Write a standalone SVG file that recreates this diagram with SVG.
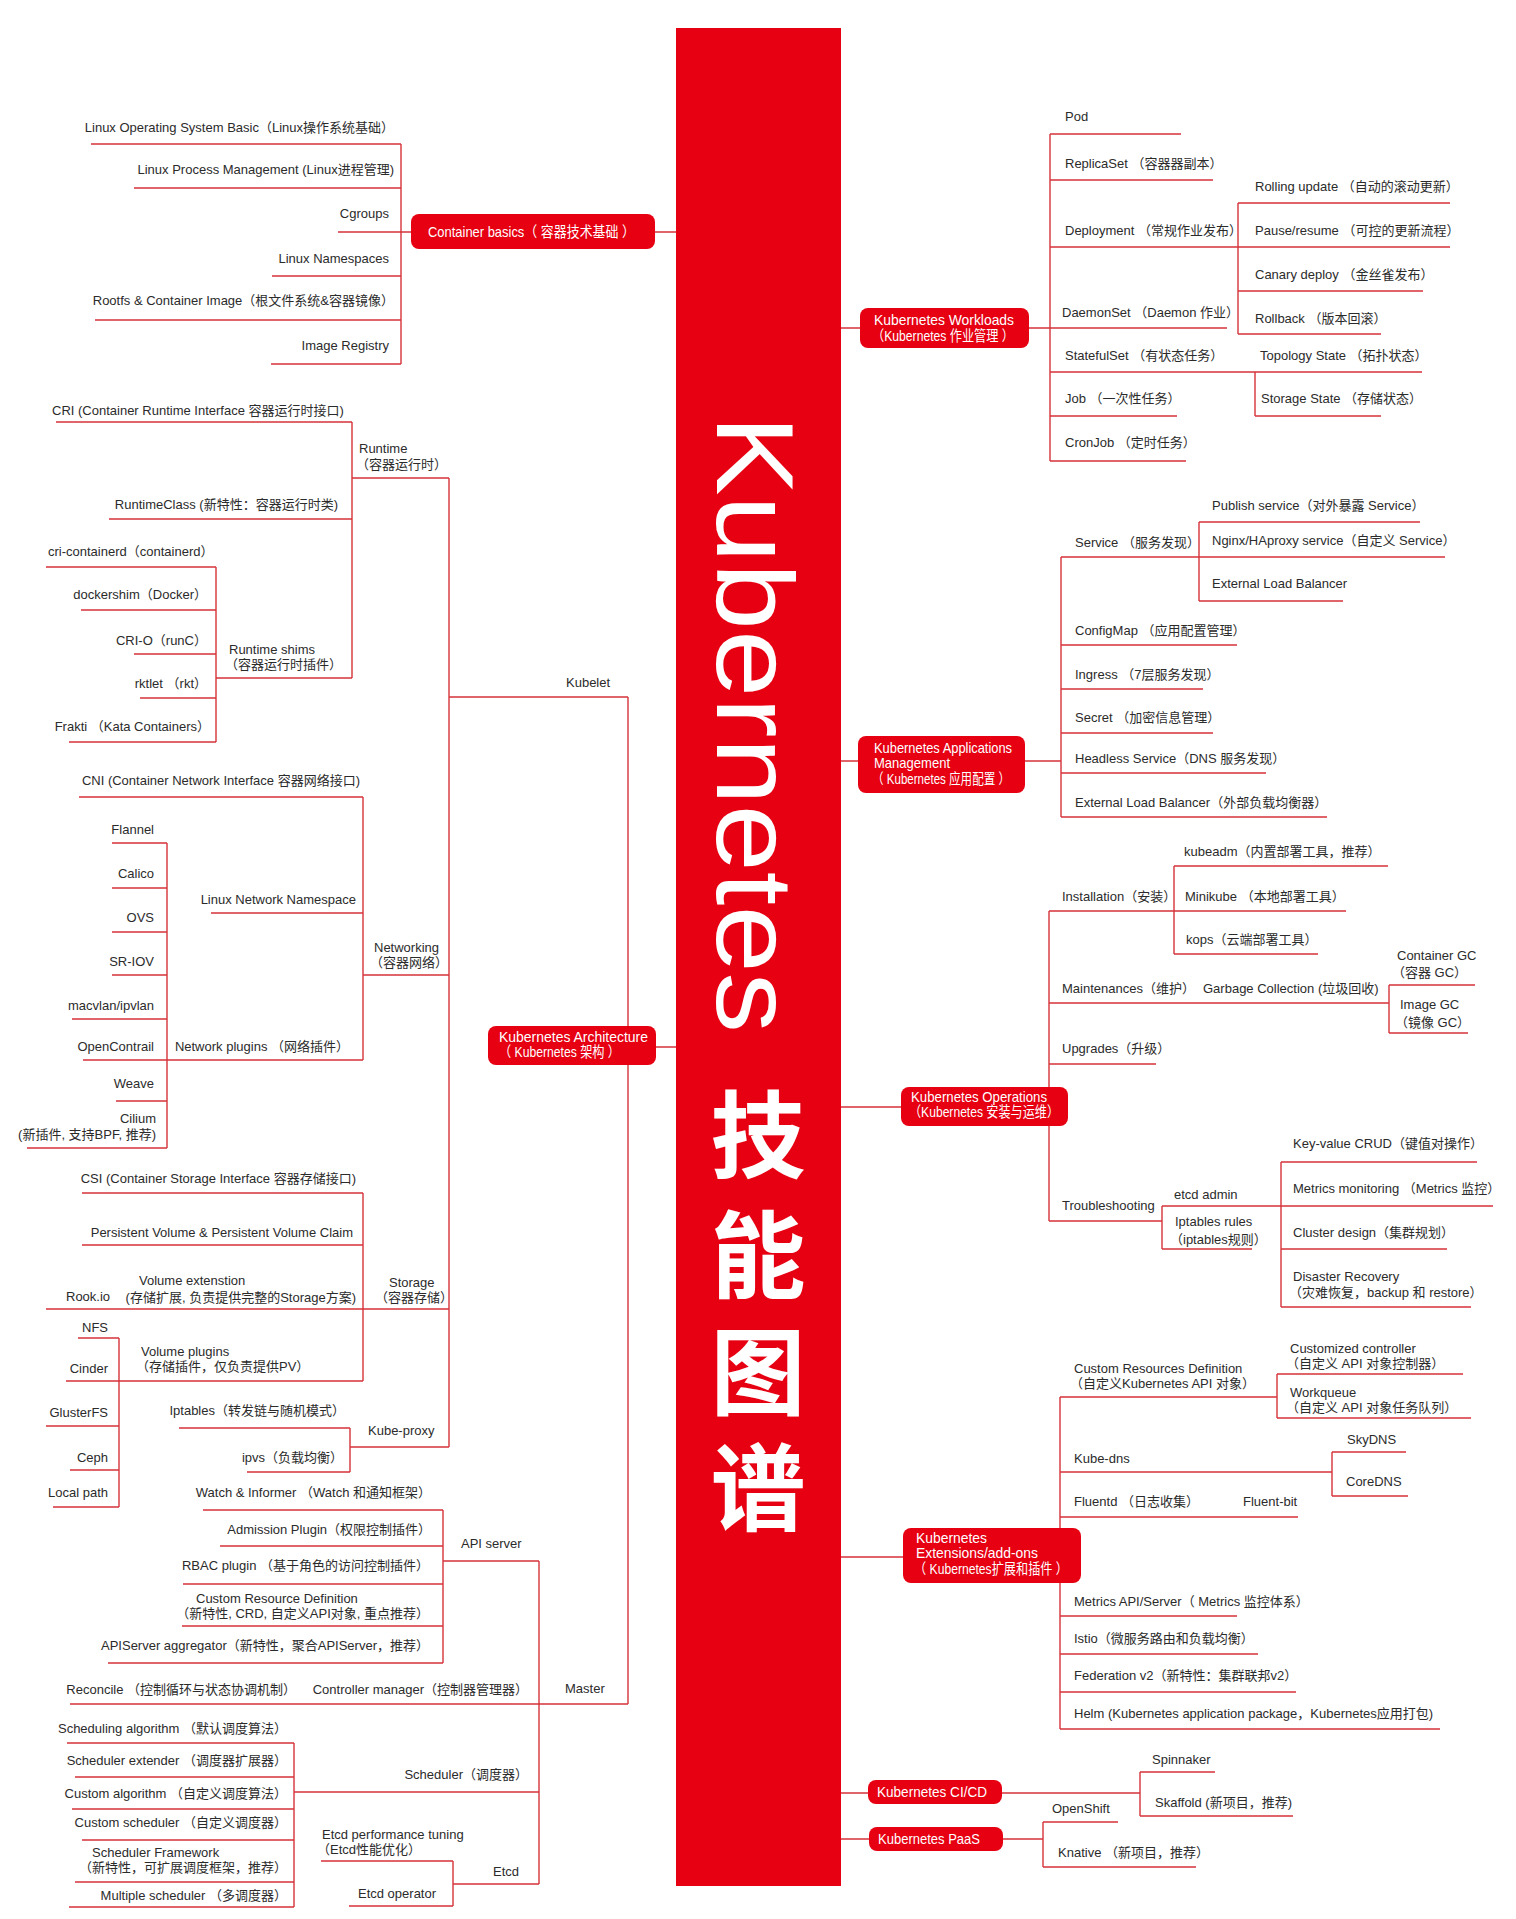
<svg xmlns="http://www.w3.org/2000/svg" width="1516" height="1919" viewBox="0 0 1516 1919">
<style>
.t{font-family:"Liberation Sans","Noto Sans CJK SC",sans-serif;font-size:13px;fill:#2b2b2b}
.e{text-anchor:end}
.l{fill:none;stroke:#d6333a;stroke-width:1.4}
.n{fill:#e60012}
.nt{font-family:"Liberation Sans","Noto Sans CJK SC",sans-serif;font-size:14.5px;fill:#ffffff}
.big{font-family:"Liberation Sans","Noto Sans CJK SC",sans-serif;fill:#ffffff}
</style>
<rect width="1516" height="1919" fill="#ffffff"/>
<g id="connectors" class="l">
<path d="M676 232H655M411 232H338M401 144V364M91 144H401M134 188H401M272 276H401M95 320H401M271 364H401"/>
<path d="M841 328H860M1029 328H1050M1050 134V461M1050 134H1181M1050 180H1213M1050 247H1450M1050 328H1227M1050 372H1422M1050 416H1177M1050 461H1186M1238 203V334M1238 203H1450M1238 291H1423M1238 334H1381M1255 372V416M1255 416H1381"/>
<path d="M676 1047H656M628 697V1704M449 697H628M449 478V1447M352 478H449M352 422V678M56 422H352M109 519H352M216 678H352M216 567V742M46 567H216M81 610H216M134 654H216M140 698H216M69 742H216"/>
<path d="M363 975H449M363 797V1060M79 797H363M211 913H363M83 1060H363M167 843V1148M112 843H167M112 888H167M112 932H167M112 975H167M72 1019H167M116 1101H167M27 1148H167"/>
<path d="M46 1309H449M363 1193V1381M82 1193H363M82 1245H363M66 1381H363M119 1338V1507M78 1338H119M46 1426H119M70 1470H119M53 1507H119M350 1447H449M350 1428V1472M179 1428H350M247 1472H350"/>
<path d="M70 1704H628M539 1561V1884M443 1561H539M443 1510V1663M203 1510H443M220 1546H443M183 1584H443M182 1626H443M108 1663H443M294 1792H539M294 1743V1907M67 1743H294M75 1777H294M72 1809H294M82 1840H294M75 1882H294M69 1907H294M453 1884H539M453 1861V1906M321 1861H453M349 1906H453"/>
<path d="M841 761H858M1025 761H1061M1061 557V817M1061 557H1445M1199 522V601M1199 522H1420M1199 601H1343M1061 645H1237M1061 689H1203M1061 733H1213M1061 773H1266M1061 817H1327"/>
<path d="M841 1107H901M1049 911V1221M1049 911H1346M1174 866V954M1174 866H1388M1174 954H1318M1049 1003H1389M1389 985V1033M1389 985H1475M1389 1033H1468M1049 1064H1156M1049 1221H1162M1162 1206V1249M1162 1206H1493M1162 1249H1252M1281 1162V1307M1281 1162H1477M1281 1249H1447M1281 1307H1471"/>
<path d="M841 1557H903M1060 1397V1729M1060 1397H1277M1277 1374V1418M1277 1374H1463M1277 1418H1471M1060 1472H1332M1332 1452V1496M1332 1452H1406M1332 1496H1408M1060 1517H1298M1060 1616H1237M1060 1654H1258M1060 1692H1296M1060 1729H1440"/>
<path d="M841 1793H868M1002 1793H1140M1140 1772V1816M1140 1772H1215M1140 1816H1293M841 1839H869M1003 1839H1043M1043 1822V1867M1043 1822H1118M1043 1867H1196"/>
</g>
<g id="spine">
<rect x="676" y="28" width="165" height="1858" class="n"/>
<text class="big" transform="translate(717,415) rotate(90)" font-size="109" textLength="618" lengthAdjust="spacingAndGlyphs">Kubernetes</text>
<text class="big" font-size="95" font-weight="bold" text-anchor="middle" x="758" y="1171">技</text>
<text class="big" font-size="95" font-weight="bold" text-anchor="middle" x="758" y="1291">能</text>
<text class="big" font-size="95" font-weight="bold" text-anchor="middle" x="758" y="1408">图</text>
<text class="big" font-size="95" font-weight="bold" text-anchor="middle" x="758" y="1524">谱</text>
</g>
<g id="container-basics"><rect x="411" y="214" width="244" height="35" rx="8" class="n"/><text class="nt" x="428" y="237" textLength="207" lengthAdjust="spacingAndGlyphs">Container basics（ 容器技术基础 ）</text></g>
<g id="cb-linux-os"><text class="t e" x="394" y="132">Linux Operating System Basic（Linux操作系统基础）</text></g>
<g id="cb-process"><text class="t e" x="394" y="174">Linux Process Management (Linux进程管理)</text></g>
<g id="cb-cgroups"><text class="t e" x="389" y="218">Cgroups</text></g>
<g id="cb-ns"><text class="t e" x="389" y="263">Linux Namespaces</text></g>
<g id="cb-rootfs"><text class="t e" x="394" y="305">Rootfs &amp; Container Image（根文件系统&amp;容器镜像）</text></g>
<g id="cb-registry"><text class="t e" x="389" y="350">Image Registry</text></g>

<g id="workloads"><rect x="860" y="308" width="169" height="40" rx="8" class="n"/><text class="nt" x="874" y="325" textLength="140" lengthAdjust="spacingAndGlyphs">Kubernetes Workloads</text><text class="nt" x="872" y="341" textLength="142" lengthAdjust="spacingAndGlyphs">（Kubernetes 作业管理 ）</text></g>
<g id="w-pod"><text class="t" x="1065" y="121">Pod</text></g>
<g id="w-rs"><text class="t" x="1065" y="168">ReplicaSet （容器器副本）</text></g>
<g id="w-deploy"><text class="t" x="1065" y="235">Deployment （常规作业发布）</text></g>
<g id="w-ds"><text class="t" x="1062" y="317">DaemonSet （Daemon 作业）</text></g>
<g id="w-sts"><text class="t" x="1065" y="360">StatefulSet （有状态任务）</text></g>
<g id="w-job"><text class="t" x="1065" y="403">Job （一次性任务）</text></g>
<g id="w-cron"><text class="t" x="1065" y="447">CronJob （定时任务）</text></g>
<g id="w-rolling"><text class="t" x="1255" y="191">Rolling update （自动的滚动更新）</text></g>
<g id="w-pause"><text class="t" x="1255" y="235">Pause/resume （可控的更新流程）</text></g>
<g id="w-canary"><text class="t" x="1255" y="279">Canary deploy （金丝雀发布）</text></g>
<g id="w-rollback"><text class="t" x="1255" y="323">Rollback （版本回滚）</text></g>
<g id="w-topo"><text class="t" x="1260" y="360">Topology State （拓扑状态）</text></g>
<g id="w-storage"><text class="t" x="1261" y="403">Storage State （存储状态）</text></g>

<g id="architecture"><rect x="488" y="1026" width="168" height="39" rx="8" class="n"/><text class="nt" x="499" y="1042" textLength="149" lengthAdjust="spacingAndGlyphs">Kubernetes Architecture</text><text class="nt" x="499" y="1057" textLength="121" lengthAdjust="spacingAndGlyphs">（ Kubernetes 架构 ）</text></g>
<g id="a-kubelet"><text class="t" x="566" y="687">Kubelet</text></g>
<g id="a-master"><text class="t" x="565" y="1693">Master</text></g>
<g id="a-runtime"><text class="t" x="359" y="453">Runtime</text><text class="t" x="356" y="469">（容器运行时）</text></g>
<g id="a-cri"><text class="t" x="52" y="415">CRI (Container Runtime Interface 容器运行时接口)</text></g>
<g id="a-rtclass"><text class="t e" x="338" y="509">RuntimeClass (新特性：容器运行时类)</text></g>
<g id="a-shims"><text class="t" x="229" y="654">Runtime shims</text><text class="t" x="225" y="669">（容器运行时插件）</text></g>
<g id="a-cricontainerd"><text class="t" x="48" y="556">cri-containerd（containerd）</text></g>
<g id="a-dockershim"><text class="t e" x="207" y="599">dockershim（Docker）</text></g>
<g id="a-crio"><text class="t e" x="207" y="645">CRI-O（runC）</text></g>
<g id="a-rktlet"><text class="t e" x="207" y="688">rktlet （rkt）</text></g>
<g id="a-frakti"><text class="t e" x="210" y="731">Frakti （Kata Containers）</text></g>
<g id="a-networking"><text class="t" x="374" y="952">Networking</text><text class="t" x="370" y="967">（容器网络）</text></g>
<g id="a-cni"><text class="t e" x="360" y="785">CNI (Container Network Interface 容器网络接口)</text></g>
<g id="a-netns"><text class="t e" x="356" y="904">Linux Network Namespace</text></g>
<g id="a-netplugins"><text class="t e" x="349" y="1051">Network plugins （网络插件）</text></g>
<g id="a-flannel"><text class="t e" x="154" y="834">Flannel</text></g>
<g id="a-calico"><text class="t e" x="154" y="878">Calico</text></g>
<g id="a-ovs"><text class="t e" x="154" y="922">OVS</text></g>
<g id="a-sriov"><text class="t e" x="154" y="966">SR-IOV</text></g>
<g id="a-macvlan"><text class="t e" x="154" y="1010">macvlan/ipvlan</text></g>
<g id="a-opencontrail"><text class="t e" x="154" y="1051">OpenContrail</text></g>
<g id="a-weave"><text class="t e" x="154" y="1088">Weave</text></g>
<g id="a-cilium"><text class="t e" x="156" y="1123">Cilium</text><text class="t e" x="156" y="1139">(新插件, 支持BPF, 推荐)</text></g>
<g id="a-storage"><text class="t" x="389" y="1287">Storage</text><text class="t" x="375" y="1302">（容器存储）</text></g>
<g id="a-csi"><text class="t e" x="356" y="1183">CSI (Container Storage Interface 容器存储接口)</text></g>
<g id="a-pv"><text class="t e" x="353" y="1237">Persistent Volume &amp; Persistent Volume Claim</text></g>
<g id="a-volext"><text class="t" x="139" y="1285">Volume extenstion</text><text class="t e" x="356" y="1302">(存储扩展, 负责提供完整的Storage方案)</text></g>
<g id="a-rook"><text class="t" x="66" y="1301">Rook.io</text></g>
<g id="a-volplugins"><text class="t" x="141" y="1356">Volume plugins</text><text class="t" x="136" y="1371">（存储插件，仅负责提供PV）</text></g>
<g id="a-nfs"><text class="t" x="82" y="1332">NFS</text></g>
<g id="a-cinder"><text class="t e" x="108" y="1373">Cinder</text></g>
<g id="a-gluster"><text class="t e" x="108" y="1417">GlusterFS</text></g>
<g id="a-ceph"><text class="t e" x="108" y="1462">Ceph</text></g>
<g id="a-local"><text class="t e" x="108" y="1497">Local path</text></g>
<g id="a-kubeproxy"><text class="t" x="368" y="1435">Kube-proxy</text></g>
<g id="a-iptables"><text class="t e" x="345" y="1415">Iptables（转发链与随机模式）</text></g>
<g id="a-ipvs"><text class="t e" x="343" y="1462">ipvs（负载均衡）</text></g>
<g id="a-apiserver"><text class="t" x="461" y="1548">API server</text></g>
<g id="a-watch"><text class="t e" x="431" y="1497">Watch &amp; Informer （Watch 和通知框架）</text></g>
<g id="a-admission"><text class="t e" x="431" y="1534">Admission Plugin（权限控制插件）</text></g>
<g id="a-rbac"><text class="t e" x="429" y="1570">RBAC plugin （基于角色的访问控制插件）</text></g>
<g id="a-crd"><text class="t" x="196" y="1603">Custom Resource Definition</text><text class="t e" x="429" y="1618">（新特性, CRD, 自定义API对象, 重点推荐）</text></g>
<g id="a-aggregator"><text class="t e" x="429" y="1650">APIServer aggregator（新特性，聚合APIServer，推荐）</text></g>
<g id="a-controller"><text class="t e" x="528" y="1694">Controller manager（控制器管理器）</text></g>
<g id="a-reconcile"><text class="t e" x="296" y="1694">Reconcile （控制循环与状态协调机制）</text></g>
<g id="a-scheduler"><text class="t e" x="528" y="1779">Scheduler（调度器）</text></g>
<g id="a-schedalg"><text class="t e" x="287" y="1733">Scheduling algorithm （默认调度算法）</text></g>
<g id="a-schedext"><text class="t e" x="287" y="1765">Scheduler extender （调度器扩展器）</text></g>
<g id="a-customalg"><text class="t e" x="287" y="1798">Custom algorithm （自定义调度算法）</text></g>
<g id="a-customsched"><text class="t e" x="287" y="1827">Custom scheduler （自定义调度器）</text></g>
<g id="a-schedfw"><text class="t" x="92" y="1857">Scheduler Framework</text><text class="t e" x="287" y="1872">（新特性，可扩展调度框架，推荐）</text></g>
<g id="a-multisched"><text class="t e" x="287" y="1900">Multiple scheduler （多调度器）</text></g>
<g id="a-etcd"><text class="t" x="493" y="1876">Etcd</text></g>
<g id="a-etcdperf"><text class="t" x="322" y="1839">Etcd performance tuning</text><text class="t" x="317" y="1854">（Etcd性能优化）</text></g>
<g id="a-etcdop"><text class="t" x="358" y="1898">Etcd operator</text></g>

<g id="applications"><rect x="858" y="736" width="167" height="57" rx="8" class="n"/><text class="nt" x="874" y="753" textLength="138" lengthAdjust="spacingAndGlyphs">Kubernetes Applications</text><text class="nt" x="874" y="768" textLength="76" lengthAdjust="spacingAndGlyphs">Management</text><text class="nt" x="872" y="784" textLength="138" lengthAdjust="spacingAndGlyphs">（ Kubernetes 应用配置 ）</text></g>
<g id="p-service"><text class="t" x="1075" y="547">Service （服务发现）</text></g>
<g id="p-publish"><text class="t" x="1212" y="510">Publish service（对外暴露 Service）</text></g>
<g id="p-nginx"><text class="t" x="1212" y="545">Nginx/HAproxy service（自定义 Service）</text></g>
<g id="p-elb"><text class="t" x="1212" y="588">External Load Balancer</text></g>
<g id="p-configmap"><text class="t" x="1075" y="635">ConfigMap （应用配置管理）</text></g>
<g id="p-ingress"><text class="t" x="1075" y="679">Ingress （7层服务发现）</text></g>
<g id="p-secret"><text class="t" x="1075" y="722">Secret （加密信息管理）</text></g>
<g id="p-headless"><text class="t" x="1075" y="763">Headless Service（DNS 服务发现）</text></g>
<g id="p-elb2"><text class="t" x="1075" y="807">External Load Balancer（外部负载均衡器）</text></g>

<g id="operations"><rect x="901" y="1087" width="167" height="39" rx="8" class="n"/><text class="nt" x="911" y="1102" textLength="136" lengthAdjust="spacingAndGlyphs">Kubernetes Operations</text><text class="nt" x="909" y="1117" textLength="150" lengthAdjust="spacingAndGlyphs">（Kubernetes 安装与运维）</text></g>
<g id="o-install"><text class="t" x="1062" y="901">Installation（安装）</text></g>
<g id="o-kubeadm"><text class="t" x="1184" y="856">kubeadm（内置部署工具，推荐）</text></g>
<g id="o-minikube"><text class="t" x="1185" y="901">Minikube （本地部署工具）</text></g>
<g id="o-kops"><text class="t" x="1186" y="944">kops（云端部署工具）</text></g>
<g id="o-maint"><text class="t" x="1062" y="993">Maintenances（维护）</text></g>
<g id="o-gc"><text class="t" x="1203" y="993">Garbage Collection (垃圾回收)</text></g>
<g id="o-cgc"><text class="t" x="1397" y="960">Container GC</text><text class="t" x="1392" y="977">（容器 GC）</text></g>
<g id="o-igc"><text class="t" x="1400" y="1009">Image GC</text><text class="t" x="1395" y="1027">（镜像 GC）</text></g>
<g id="o-upgrades"><text class="t" x="1062" y="1053">Upgrades（升级）</text></g>
<g id="o-trouble"><text class="t" x="1062" y="1210">Troubleshooting</text></g>
<g id="o-etcdadmin"><text class="t" x="1174" y="1199">etcd admin</text></g>
<g id="o-iptables"><text class="t" x="1175" y="1226">Iptables rules</text><text class="t" x="1170" y="1244">（iptables规则）</text></g>
<g id="o-kv"><text class="t" x="1293" y="1148">Key-value CRUD（键值对操作）</text></g>
<g id="o-metrics"><text class="t" x="1293" y="1193">Metrics monitoring （Metrics 监控）</text></g>
<g id="o-cluster"><text class="t" x="1293" y="1237">Cluster design（集群规划）</text></g>
<g id="o-dr"><text class="t" x="1293" y="1281">Disaster Recovery</text><text class="t" x="1289" y="1297">（灾难恢复，backup 和 restore）</text></g>

<g id="extensions"><rect x="903" y="1528" width="178" height="55" rx="8" class="n"/><text class="nt" x="916" y="1543" textLength="71" lengthAdjust="spacingAndGlyphs">Kubernetes</text><text class="nt" x="916" y="1558" textLength="122" lengthAdjust="spacingAndGlyphs">Extensions/add-ons</text><text class="nt" x="914" y="1574" textLength="154" lengthAdjust="spacingAndGlyphs">（ Kubernetes扩展和插件 ）</text></g>
<g id="x-crd"><text class="t" x="1074" y="1373">Custom Resources Definition</text><text class="t" x="1070" y="1388">（自定义Kubernetes API 对象）</text></g>
<g id="x-controller"><text class="t" x="1290" y="1353">Customized controller</text><text class="t" x="1286" y="1368">（自定义 API 对象控制器）</text></g>
<g id="x-workqueue"><text class="t" x="1290" y="1397">Workqueue</text><text class="t" x="1286" y="1412">（自定义 API 对象任务队列）</text></g>
<g id="x-kubedns"><text class="t" x="1074" y="1463">Kube-dns</text></g>
<g id="x-skydns"><text class="t" x="1347" y="1444">SkyDNS</text></g>
<g id="x-coredns"><text class="t" x="1346" y="1486">CoreDNS</text></g>
<g id="x-fluentd"><text class="t" x="1074" y="1506">Fluentd （日志收集）</text></g>
<g id="x-fluentbit"><text class="t" x="1243" y="1506">Fluent-bit</text></g>
<g id="x-metrics"><text class="t" x="1074" y="1606">Metrics API/Server（ Metrics 监控体系）</text></g>
<g id="x-istio"><text class="t" x="1074" y="1643">Istio（微服务路由和负载均衡）</text></g>
<g id="x-federation"><text class="t" x="1074" y="1680">Federation v2（新特性：集群联邦v2）</text></g>
<g id="x-helm"><text class="t" x="1074" y="1718">Helm (Kubernetes application package，Kubernetes应用打包)</text></g>

<g id="cicd"><rect x="868" y="1780" width="134" height="24" rx="8" class="n"/><text class="nt" x="877" y="1797" textLength="110" lengthAdjust="spacingAndGlyphs">Kubernetes CI/CD</text></g>
<g id="c-spinnaker"><text class="t" x="1152" y="1764">Spinnaker</text></g>
<g id="c-skaffold"><text class="t" x="1155" y="1807">Skaffold (新项目，推荐)</text></g>
<g id="paas"><rect x="869" y="1827" width="134" height="24" rx="8" class="n"/><text class="nt" x="878" y="1844" textLength="102" lengthAdjust="spacingAndGlyphs">Kubernetes PaaS</text></g>
<g id="s-openshift"><text class="t" x="1052" y="1813">OpenShift</text></g>
<g id="s-knative"><text class="t" x="1058" y="1857">Knative （新项目，推荐）</text></g>
</svg>
